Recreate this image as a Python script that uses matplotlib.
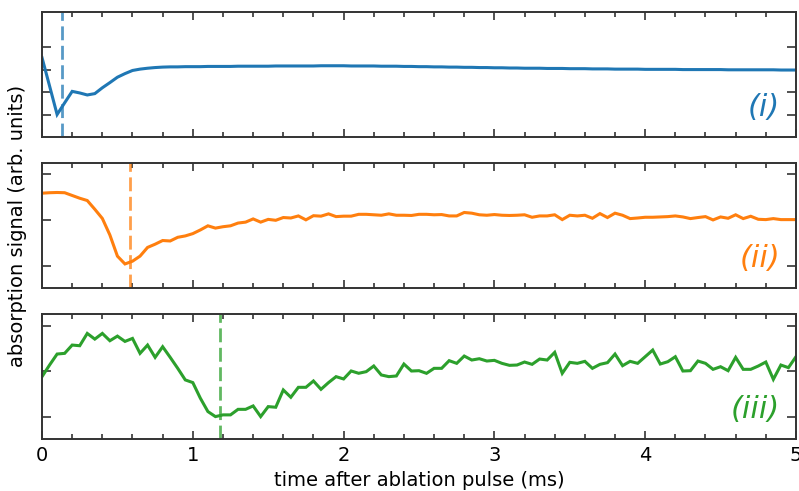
import numpy as np
import matplotlib
matplotlib.use("Agg")
import matplotlib.pyplot as plt
from matplotlib.ticker import MultipleLocator, NullFormatter

# time axis: one sample every 0.05 ms
t = np.arange(101) * 0.05

sig_i = [2.53, 1.27, 0.0, 0.52, 1.03, 0.96, 0.87, 0.93, 1.19, 1.42, 1.66, 1.82, 1.96, 2.02, 2.06,
         2.09, 2.11, 2.12, 2.12, 2.13, 2.13,
         2.13, 2.14, 2.14, 2.14, 2.14, 2.15, 2.15, 2.15, 2.15, 2.15, 2.16, 2.16, 2.16, 2.16, 2.16,
         2.16, 2.17, 2.17, 2.17, 2.17,
         2.16, 2.16, 2.16, 2.16, 2.15, 2.15, 2.15, 2.14, 2.14, 2.13, 2.13, 2.12, 2.12, 2.11, 2.11,
         2.10, 2.10, 2.09, 2.09, 2.08,
         2.08, 2.07, 2.07, 2.06, 2.06, 2.06, 2.05, 2.05, 2.05, 2.04, 2.04, 2.04, 2.03, 2.03, 2.03,
         2.02, 2.02, 2.02, 2.02, 2.01,
         2.01, 2.01, 2.01, 2.01, 2.00, 2.00, 2.00, 2.00, 2.00, 2.00, 1.99, 1.99, 1.99, 1.99, 1.99,
         1.99, 1.99, 1.98, 1.98, 1.98]

sig_ii = [1.58, 1.59, 1.595, 1.59, 1.53, 1.47, 1.42, 1.23, 1.03, 0.67, 0.21, 0.04, 0.10, 0.21, 0.40,
          0.47, 0.55, 0.54, 0.62, 0.65, 0.70, 0.78, 0.87, 0.82, 0.85, 0.87, 0.93, 0.95, 1.02, 0.95,
          1.01, 0.99, 1.05, 1.04, 1.085, 1.00, 1.09, 1.08, 1.13, 1.07, 1.08, 1.08, 1.12, 1.12, 1.11,
          1.10, 1.13, 1.10, 1.10, 1.095, 1.12, 1.12, 1.11, 1.115, 1.085, 1.085, 1.16, 1.145, 1.11,
          1.10, 1.115, 1.10, 1.095, 1.10, 1.11, 1.056, 1.085, 1.085, 1.11, 1.005, 1.10, 1.085, 1.10,
          1.034, 1.136, 1.05, 1.145, 1.10, 1.027, 1.04, 1.056, 1.056, 1.063, 1.07, 1.085, 1.063,
          1.027, 1.05, 1.07, 0.998, 1.063, 1.034, 1.11, 1.027, 1.078, 1.012, 1.005, 1.027, 1.005,
          1.005, 1.005]

sig_iii = [0.88, 1.136, 1.378, 1.393, 1.576, 1.561, 1.832, 1.707, 1.832, 1.671, 1.773, 1.656, 1.722,
           1.393, 1.576, 1.305, 1.539, 1.305, 1.063, 0.808, 0.749, 0.405, 0.111, 0.0, 0.038, 0.038,
           0.16, 0.16, 0.235, 0.0, 0.22, 0.206, 0.587, 0.426, 0.645, 0.645, 0.785, 0.601, 0.749,
           0.88, 0.829, 1.005, 0.954, 0.99, 1.115, 0.917, 0.88, 0.895, 1.158, 1.004, 1.011, 0.953,
           1.063, 1.063, 1.232, 1.173, 1.334, 1.246, 1.275, 1.224, 1.239, 1.173, 1.129, 1.136, 1.202,
           1.151, 1.268, 1.246, 1.415, 0.953, 1.195, 1.173, 1.217, 1.063, 1.151, 1.188, 1.378, 1.121,
           1.217, 1.173, 1.319, 1.466, 1.158, 1.209, 1.319, 1.004, 1.011, 1.224, 1.173, 1.041, 1.099,
           1.011, 1.305, 1.041, 1.041, 1.114, 1.202, 0.821, 1.136, 1.078, 1.319]

signals = [sig_i, sig_ii, sig_iii]
t_min = [0.13, 0.583, 1.18]          # dashed markers
labels = ["(i)", "(ii)", "(iii)"]
colors = ["#1f77b4", "#ff7f0e", "#2ca02c"]
ylims = [(-1.0, 4.55), (-0.49, 2.23), (-0.50, 2.26)]
yticks = [[0, 1, 2, 3], [0, 1, 2], [0, 1, 2]]

fig = plt.figure(figsize=(7.99, 4.91), dpi=100)
# [left, bottom, width, height] per panel
boxes = [[0.0526, 0.721, 0.9436, 0.254],
         [0.0526, 0.4128, 0.9436, 0.2546],
         [0.0526, 0.1053, 0.9436, 0.2552]]

spine_c = "#333333"
axes = []
for k in range(3):
    ax = fig.add_axes(boxes[k])
    ax.plot(t, signals[k], color=colors[k], lw=2.2, solid_joinstyle="miter")
    ax.axvline(t_min[k], color=colors[k], lw=2.0, ls=(0, (5, 2)), alpha=0.75)
    ax.set_xlim(0, 5)
    ax.set_ylim(*ylims[k])
    ax.set_yticks(yticks[k])
    ax.yaxis.set_major_formatter(NullFormatter())
    ax.xaxis.set_major_locator(MultipleLocator(1))
    ax.xaxis.set_minor_locator(MultipleLocator(0.2))
    ax.tick_params(axis="both", which="both", direction="in", top=True, right=True,
                   color=spine_c, width=1.2)
    ax.tick_params(axis="x", which="major", length=5.5)
    ax.tick_params(axis="x", which="minor", length=3.5)
    ax.tick_params(axis="y", which="major", length=6.5)
    for s in ax.spines.values():
        s.set_color(spine_c)
        s.set_linewidth(1.4)
    if k < 2:
        ax.xaxis.set_major_formatter(NullFormatter())
    ax.text(0.979, 0.235, labels[k], transform=ax.transAxes, ha="right", va="center",
            fontsize=22, style="italic", color=colors[k])
    axes.append(ax)

axes[2].tick_params(axis="x", labelsize=14, pad=5)
axes[2].set_xlabel("time after ablation pulse (ms)", fontsize=14, labelpad=4)
fig.text(0.022, 0.54, "absorption signal (arb. units)", rotation=90, ha="center", va="center",
         fontsize=14)

fig.savefig("out.png", dpi=100)
